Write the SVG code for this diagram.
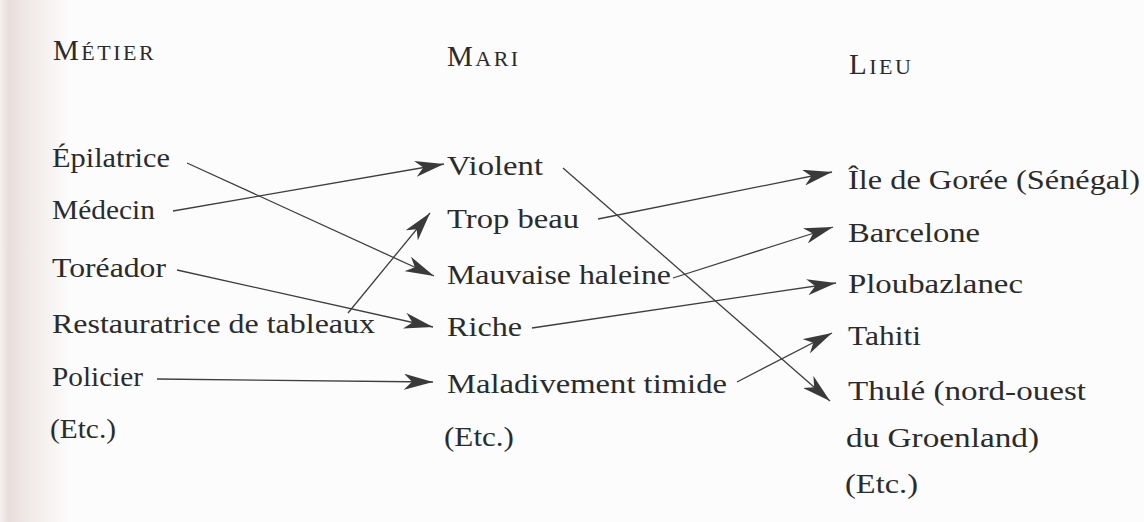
<svg xmlns="http://www.w3.org/2000/svg" width="1144" height="522" viewBox="0 0 1144 522">
<defs>
<linearGradient id="edge" x1="0" y1="0" x2="1" y2="0">
<stop offset="0" stop-color="#f5f1f0"/>
<stop offset="0.12" stop-color="#e8dedc"/>
<stop offset="0.5" stop-color="#f2edeb"/>
<stop offset="1" stop-color="#fcfcfc"/>
</linearGradient>
<marker id="ah" markerUnits="userSpaceOnUse" markerWidth="30" markerHeight="16" refX="29" refY="8" orient="auto" viewBox="0 0 30 16">
<path d="M0,0 L29,8 L0,16 L8,8 Z" fill="#3a3a3a"/>
</marker>
</defs>
<style>
text{font-family:"Liberation Serif","Times New Roman",serif;font-size:27px;fill:#2b2b2b;}
.hd{font-size:22px;letter-spacing:2.5px;}
.big{font-size:29px;}
.c line{stroke:#3e3e3e;stroke-width:1.3;marker-end:url(#ah);}
</style>
<rect x="0" y="0" width="1144" height="522" fill="#fcfcfc"/>
<rect x="0" y="0" width="70" height="522" fill="url(#edge)"/>
<g id="headers">
<text class="hd" x="53" y="60"><tspan class="big">M</tspan>ÉTIER</text>
<text class="hd" x="447" y="66"><tspan class="big">M</tspan>ARI</text>
<text class="hd" x="849" y="74"><tspan class="big">L</tspan>IEU</text>
</g>
<g id="metier">
<g id="n-epilatrice"><text x="52" y="167" textLength="118" lengthAdjust="spacingAndGlyphs">Épilatrice</text></g>
<g id="n-medecin"><text x="52" y="219" textLength="103" lengthAdjust="spacingAndGlyphs">Médecin</text></g>
<g id="n-toreador"><text x="52" y="277" textLength="114" lengthAdjust="spacingAndGlyphs">Toréador</text></g>
<g id="n-restauratrice"><text x="52" y="333" textLength="323" lengthAdjust="spacingAndGlyphs">Restauratrice de tableaux</text></g>
<g id="n-policier"><text x="52" y="386" textLength="91" lengthAdjust="spacingAndGlyphs">Policier</text></g>
<g id="n-etc1"><text x="50" y="438" textLength="66" lengthAdjust="spacingAndGlyphs">(Etc.)</text></g>
</g>
<g id="mari">
<g id="n-violent"><text x="447" y="175" textLength="96" lengthAdjust="spacingAndGlyphs">Violent</text></g>
<g id="n-tropbeau"><text x="447" y="228" textLength="132" lengthAdjust="spacingAndGlyphs">Trop beau</text></g>
<g id="n-mauvaise"><text x="447" y="284" textLength="224" lengthAdjust="spacingAndGlyphs">Mauvaise haleine</text></g>
<g id="n-riche"><text x="447" y="336" textLength="75" lengthAdjust="spacingAndGlyphs">Riche</text></g>
<g id="n-maladivement"><text x="447" y="393" textLength="280" lengthAdjust="spacingAndGlyphs">Maladivement timide</text></g>
<g id="n-etc2"><text x="444" y="446" textLength="70" lengthAdjust="spacingAndGlyphs">(Etc.)</text></g>
</g>
<g id="lieu">
<g id="n-goree"><text x="848" y="189" textLength="292" lengthAdjust="spacingAndGlyphs">Île de Gorée (Sénégal)</text></g>
<g id="n-barcelone"><text x="848" y="242" textLength="132" lengthAdjust="spacingAndGlyphs">Barcelone</text></g>
<g id="n-ploubazlanec"><text x="848" y="293" textLength="175" lengthAdjust="spacingAndGlyphs">Ploubazlanec</text></g>
<g id="n-tahiti"><text x="848" y="345" textLength="73" lengthAdjust="spacingAndGlyphs">Tahiti</text></g>
<g id="n-thule"><text x="848" y="400" textLength="238" lengthAdjust="spacingAndGlyphs">Thulé (nord-ouest</text><text x="846" y="447" textLength="193" lengthAdjust="spacingAndGlyphs">du Groenland)</text></g>
<g id="n-etc3"><text x="845" y="493" textLength="73" lengthAdjust="spacingAndGlyphs">(Etc.)</text></g>
</g>
<g id="connectors" class="c">
<line x1="187" y1="163" x2="434" y2="276"/>
<line x1="173" y1="211" x2="444" y2="164"/>
<line x1="177" y1="270" x2="433" y2="327"/>
<line x1="348" y1="313" x2="430" y2="213"/>
<line x1="157" y1="379" x2="433" y2="382"/>
<line x1="563" y1="168" x2="830" y2="401"/>
<line x1="598" y1="219" x2="832" y2="172"/>
<line x1="673" y1="278" x2="833" y2="227"/>
<line x1="532" y1="328" x2="836" y2="283"/>
<line x1="737" y1="382" x2="832" y2="333"/>
</g>
</svg>
